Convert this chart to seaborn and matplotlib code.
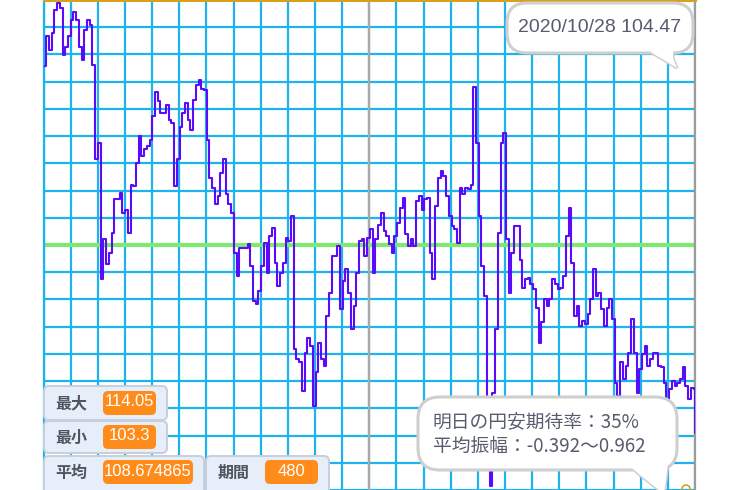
import numpy as np
import pandas as pd
import matplotlib
matplotlib.use("Agg")
import matplotlib.pyplot as plt
import matplotlib.transforms as mtransforms
from matplotlib.patches import FancyBboxPatch, Polygon, Circle
import seaborn as sns

# ---------------- data (one reading every 2 days, plus the last day) ----------------
days = list(range(0, 480, 2)) + [479]
rates = [
    # days 0-118
    112.64, 113.31, 113.01, 113.38, 113.90, 114.05, 113.93, 112.90, 113.08, 113.31,
    113.68, 113.86, 113.68, 113.08, 112.79, 113.45, 113.68, 113.56, 112.68, 110.57,
    110.94, 107.90, 108.79, 108.23, 108.49, 108.94, 109.68, 109.68, 109.83, 109.38,
    109.45, 108.94, 110.01, 109.97, 110.49, 111.08, 110.64, 110.79, 110.86, 111.01,
    111.53, 112.08, 111.86, 111.60, 111.60, 111.79, 111.45, 111.38, 109.97, 110.57,
    111.30, 111.60, 111.82, 111.45, 111.23, 111.90, 112.23, 112.34, 112.14, 112.12,
    # days 120-238
    111.01, 110.16, 109.94, 109.57, 109.75, 110.27, 110.57, 109.79, 109.57, 109.38,
    108.49, 107.97, 108.60, 108.60, 108.60, 108.68, 108.20, 107.42, 107.34, 107.64,
    108.20, 108.71, 108.05, 108.86, 109.05, 108.27, 107.75, 108.05, 108.27, 108.83,
    108.75, 109.31, 106.35, 106.12, 106.05, 105.42, 106.27, 106.60, 106.42, 105.09,
    105.83, 106.49, 106.12, 105.97, 107.09, 107.60, 108.42, 108.42, 108.64, 107.23,
    107.86, 108.12, 107.60, 106.79, 107.31, 108.05, 108.75, 108.79, 108.42, 108.83,
    # days 240-358
    109.01, 108.05, 108.79, 109.12, 109.38, 108.97, 108.86, 108.68, 108.49, 108.86,
    109.16, 109.49, 109.71, 108.90, 108.64, 108.79, 108.64, 109.64, 109.75, 109.45,
    109.68, 109.71, 108.49, 107.90, 109.53, 110.16, 110.31, 110.20, 109.75, 109.31,
    109.08, 109.01, 108.71, 109.94, 109.79, 109.94, 109.90, 110.01, 112.19, 110.94,
    109.31, 108.20, 107.53, 105.23, 103.30, 105.38, 106.79, 108.94, 110.94, 111.16,
    108.79, 107.60, 108.49, 109.08, 109.08, 108.34, 107.71, 107.90, 107.94, 107.79,
    # days 360-478
    107.68, 107.27, 106.49, 106.94, 107.46, 107.31, 107.46, 107.90, 107.79, 107.68,
    107.71, 107.97, 108.86, 109.49, 108.27, 107.09, 107.31, 106.86, 106.97, 106.90,
    107.12, 107.46, 108.12, 107.53, 107.60, 107.23, 106.86, 107.27, 107.46, 107.01,
    105.60, 105.31, 106.05, 105.68, 105.97, 106.27, 107.01, 106.27, 105.38, 105.90,
    106.23, 106.42, 105.97, 106.12, 106.27, 106.27, 105.97, 105.94, 105.60, 105.23,
    105.46, 105.64, 105.53, 105.60, 105.68, 105.94, 105.53, 105.23, 105.49, 105.46,
    # day 479
    104.47,
]
max_rate = 114.05
min_rate = 103.3
avg_rate = 108.674865
period = 480
last_date = "2020/10/28"
last_rate = 104.47
stat_labels = ["最大", "最小", "平均", "期間"]
stat_values = ["114.05", "103.3", "108.674865", "480"]
expect_lines = ["明日の円安期待率：35%", "平均振幅：-0.392〜0.962"]

# ---------------- style ----------------
sns.set_style("white")
plt.rcParams["font.family"] = ["Liberation Sans", "Noto Sans CJK JP", "DejaVu Sans"]
CJK = ["Noto Sans CJK JP", "DejaVu Sans"]

W, H = 740, 490
fig = plt.figure(figsize=(W / 100, H / 100), dpi=100)
fig.patch.set_facecolor("white")
ax = fig.add_axes([43.5 / W, 0, (695 - 43.5) / W, 1])

df = pd.DataFrame({"day": days, "rate": rates})

span = max_rate - min_rate
per_px = span / 483.0
ylo, yhi = min_rate - 4 * per_px, max_rate + 3 * per_px
ax.set_ylim(ylo, yhi)
ax.set_xlim(0, period - 1)

grid_c = "#1DB3EC"
ax.set_xticks(np.linspace(0, period - 1, 25))
ax.set_yticks(np.linspace(ylo, yhi, 19))
ax.tick_params(length=0, labelbottom=False, labelleft=False)
ax.grid(True, color=grid_c, lw=1.6)
ax.set_axisbelow(True)

ax.axvline((period - 1) / 2, color="#A8A8A8", lw=1.6, zorder=1)
ax.axhline(avg_rate, color="#7EE86F", lw=3, zorder=1.5)

sns.lineplot(data=df, x="day", y="rate", ax=ax, color="#5A0CF8", lw=1.5,
             drawstyle="steps-post", legend=False, zorder=3)
ax.set_xlabel("")
ax.set_ylabel("")

ax.spines["bottom"].set_visible(False)
ax.spines["left"].set_color(grid_c)
ax.spines["left"].set_linewidth(1.6)
ax.spines["right"].set_color("#9C9C9C")
ax.spines["right"].set_linewidth(1.6)
ax.spines["top"].set_color("#D6A21E")
ax.spines["top"].set_linewidth(2.2)

# pixel transform (origin top-left)
T = mtransforms.Affine2D().scale(0.01, -0.01).translate(0, H / 100) + fig.dpi_scale_trans

def rbox(x0, y0, x1, y1, r, fc, ec, lw, z):
    p = FancyBboxPatch((x0, y0), x1 - x0, y1 - y0,
                       boxstyle=f"round,pad=0,rounding_size={r}",
                       transform=T, fc=fc, ec=ec, lw=lw, zorder=z)
    fig.add_artist(p)

def tail(pts, z):
    fig.add_artist(Polygon(pts, closed=True, transform=T, fc="white",
                           ec="#CFCFCF", lw=2.2, zorder=z))
    fig.add_artist(Polygon(pts, closed=True, transform=T, fc="white",
                           ec="none", zorder=z + 2))

txt_c = "#575C6E"

# top-right bubble
t1 = [(643, 44), (652, 53), (664, 60), (677, 68), (673, 58), (673, 44)]
tail(t1, 5)
rbox(507, 3, 693, 53, 20, "white", "#CFCFCF", 2.2, 6)
fig.text(600, 28, f"{last_date} {last_rate}", transform=T, ha="center",
         va="center", fontsize=14, color=txt_c, zorder=9)

# bottom-right bubble
t2 = [(625, 462), (640, 475), (655, 487), (664, 494), (666, 480), (668, 462)]
tail(t2, 5)
rbox(418, 397, 677, 470, 22, "white", "#CFCFCF", 2.2, 6)
fig.text(433, 422, expect_lines[0], transform=T, ha="left", va="center",
         fontsize=13.5, color=txt_c, family=CJK, zorder=9)
fig.text(433, 446, expect_lines[1], transform=T, ha="left", va="center",
         fontsize=13.5, color=txt_c, family=CJK, zorder=9)

# stat boxes
box_fc, box_ec, orange = "#E5EEF9", "#C6CFDB", "#FF8C1A"
boxes = [(44, 386, 167, 420), (44, 421, 167, 453), (44, 456, 204, 500), (206, 456, 329, 500)]
oranges = [(103, 391, 156, 415), (103, 425, 156, 449), (103, 460, 193, 484), (265, 460, 318, 484)]
lab_x = [55, 55, 55, 218]
for (b, o, lab, val, lx) in zip(boxes, oranges, stat_labels, stat_values, lab_x):
    rbox(*b, 5, box_fc, box_ec, 1.4, 10)
    rbox(*o, 5, orange, "none", 0, 11)
    cy = (o[1] + o[3]) / 2
    fig.text(lx, cy + 0.5, lab, transform=T, ha="left", va="center", fontsize=11.5,
             fontweight="bold", color="#50555F", family=CJK, zorder=12)
    fig.text((o[0] + o[2]) / 2, cy - 1, val, transform=T, ha="center", va="center",
             fontsize=12, color="white", zorder=12)

fig.add_artist(Circle((686, 489), 4, transform=T, fc="none", ec="#D6A21E", lw=1.2, zorder=12))

fig.savefig("out.png", dpi=100)
